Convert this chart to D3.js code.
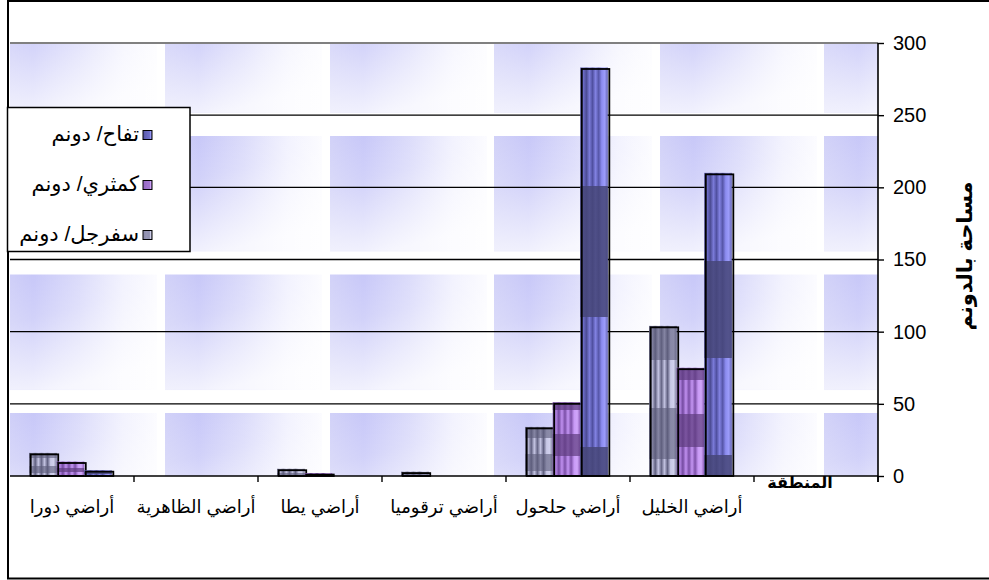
<!DOCTYPE html>
<html>
<head>
<meta charset="utf-8">
<script src="https://cdn.jsdelivr.net/npm/d3@7"></script>
<style>
  body { margin: 0; background: #fff; }
  svg { display: block; }
</style>
</head>
<body>
<svg id="chart" width="989" height="580"></svg>
<script>
// Orchard area per region (dunums); first slot of the axis is left empty
const categories = ["", "أراضي الخليل", "أراضي حلحول", "أراضي ترقوميا", "أراضي يطا", "أراضي الظاهرية", "أراضي دورا"];
const seriesKeys = ["quince", "pear", "apple"];
const seriesNames = { quince: "سفرجل/ دونم", pear: "كمثري/ دونم", apple: "تفاح/ دونم" };
const quince = [0, 103, 33, 2, 4, 0, 15];
const pear   = [0, 74, 50, 0, 1, 0, 9];
const apple  = [0, 209, 282, 0, 0, 0, 3];
const yTicks = [0, 50, 100, 150, 200, 250, 300];
const legendOrder = ["apple", "pear", "quince"];
const xTitle = "المنطقة";
const yTitle = "مساحة بالدونم";

const values = { quince, pear, apple };
const fontLatin = "'Liberation Sans', Arial, 'DejaVu Sans', sans-serif";

const svg = d3.select("#chart");
const defs = svg.append("defs");

// plot frame
const plot = { left: 10, right: 878, top: 43, bottom: 476 };

// outer chart border
svg.append("rect")
  .attr("x", 8).attr("y", 1).attr("width", 990).attr("height", 577.5)
  .attr("fill", "#fff").attr("stroke", "#000").attr("stroke-width", 2);

// background texture: soft blue tiles, strongest near the upper left
const bgH = defs.append("linearGradient").attr("id", "bgH")
  .attr("x1", 0).attr("y1", 0).attr("x2", 1).attr("y2", 0);
[[0, "#d2d2f8"], [0.22, "#c6c6f8"], [0.5, "#d8d8fa"], [0.78, "#f0f0fe"], [1, "#fbfbff"]]
  .forEach(([o, c]) => bgH.append("stop").attr("offset", o).attr("stop-color", c));
const bgV = defs.append("linearGradient").attr("id", "bgV")
  .attr("x1", 0).attr("y1", 0).attr("x2", 0.35).attr("y2", 1);
[[0, 0], [0.4, 0.2], [1, 0.8]]
  .forEach(([o, a]) => bgV.append("stop").attr("offset", o).attr("stop-color", "#fff").attr("stop-opacity", a));

const tileW = 165, tileH = 138.5;
const tile = defs.append("pattern").attr("id", "bgTile")
  .attr("patternUnits", "userSpaceOnUse")
  .attr("x", -1).attr("y", -2.5).attr("width", tileW).attr("height", tileH);
tile.append("rect").attr("width", tileW).attr("height", tileH).attr("fill", "#fff");
tile.append("rect").attr("width", 158).attr("height", 115.5).attr("fill", "url(#bgH)");
tile.append("rect").attr("width", 158).attr("height", 115.5).attr("fill", "url(#bgV)");

svg.append("rect")
  .attr("x", plot.left).attr("y", plot.top)
  .attr("width", plot.right - plot.left).attr("height", plot.bottom - plot.top)
  .attr("fill", "url(#bgTile)");

// scales
const x = d3.scaleBand().domain(categories).range([plot.right, plot.left]).paddingInner(0).paddingOuter(0);
const xs = d3.scaleBand().domain(seriesKeys).range([0, x.bandwidth()]).paddingInner(0).paddingOuter(0.75);
const y = d3.scaleLinear().domain([0, 300]).range([plot.bottom, plot.top]);

// gridlines
svg.append("g").selectAll("line")
  .data(yTicks.filter(t => t > 0))
  .join("line")
  .attr("x1", plot.left).attr("x2", plot.right)
  .attr("y1", d => y(d)).attr("y2", d => y(d))
  .attr("stroke", d => d === 300 ? "#808080" : "#000")
  .attr("stroke-width", d => d === 300 ? 2 : 1.4);

// bar textures: vertical stripes + stretched dark bands
const stripeStops = {
  apple:  ["#4e4e98", "#6c6cc8", "#4c4c94", "#7a7ad8", "#5050a0", "#8282e2", "#5656a8", "#8c8cf0", "#9c9cfa", "#6262b2"],
  pear:   ["#74489e", "#b888ea", "#744aa0", "#c090f0", "#7a4ea6", "#c496f4", "#7c50a8", "#c89af6", "#d0a6fa", "#8a5cb6"],
  quince: ["#6a6a8a", "#babad8", "#606080", "#c4c4e2", "#666686", "#c0c0de", "#626282", "#c8c8e6", "#d0d0ec", "#7c7c9c"]
};
const bandColor = { apple: "#464678", pear: "#5e3c7e", quince: "#5c5c7a" };
const bandOpacity = { apple: 0.85, pear: 0.7, quince: 0.6 };
const darkBands = {
  quince: [[0, 0.23], [0.55, 0.89]],
  pear:   [[0, 0.11], [0.43, 0.73]],
  apple:  [[0.29, 0.61], [0.93, 1.0]]
};
seriesKeys.forEach(k => {
  const g = defs.append("linearGradient").attr("id", "stripe-" + k)
    .attr("x1", 0).attr("y1", 0).attr("x2", 1).attr("y2", 0);
  const n = stripeStops[k].length;
  stripeStops[k].forEach((c, i) => g.append("stop").attr("offset", i / (n - 1)).attr("stop-color", c));

  const b = defs.append("linearGradient").attr("id", "band-" + k)
    .attr("x1", 0).attr("y1", 0).attr("x2", 0).attr("y2", 1);
  darkBands[k].forEach(([a, z]) => {
    b.append("stop").attr("offset", a).attr("stop-color", bandColor[k]).attr("stop-opacity", 0);
    b.append("stop").attr("offset", a).attr("stop-color", bandColor[k]).attr("stop-opacity", bandOpacity[k]);
    b.append("stop").attr("offset", z).attr("stop-color", bandColor[k]).attr("stop-opacity", bandOpacity[k]);
    b.append("stop").attr("offset", z).attr("stop-color", bandColor[k]).attr("stop-opacity", 0);
  });
});

// bars
const barData = [];
categories.forEach((c, i) => {
  seriesKeys.forEach(k => {
    const v = values[k][i];
    if (v > 0) barData.push({ cat: c, key: k, value: v });
  });
});

const bars = svg.append("g").selectAll("g").data(barData).join("g");
const bw = xs.bandwidth();
bars.append("rect")
  .attr("x", d => x(d.cat) + xs(d.key) - 1.5)
  .attr("y", d => y(d.value) - 1.5)
  .attr("width", bw)
  .attr("height", d => y(0) - y(d.value) + 1.5)
  .attr("fill", d => "url(#stripe-" + d.key + ")");
bars.append("rect")
  .attr("x", d => x(d.cat) + xs(d.key) - 1.5)
  .attr("y", d => y(d.value) - 1.5)
  .attr("width", bw)
  .attr("height", d => y(0) - y(d.value) + 1.5)
  .attr("fill", d => "url(#band-" + d.key + ")");
bars.append("rect")
  .attr("x", d => x(d.cat) + xs(d.key))
  .attr("y", d => y(d.value))
  .attr("width", bw)
  .attr("height", d => y(0) - y(d.value))
  .attr("fill", "none")
  .attr("stroke", "#000").attr("stroke-width", 1.8);

// category axis
svg.append("line")
  .attr("x1", plot.left).attr("x2", plot.right)
  .attr("y1", plot.bottom).attr("y2", plot.bottom)
  .attr("stroke", "#000").attr("stroke-width", 1.6);

const boundaries = categories.map(c => x(c)).concat([plot.right]);
svg.append("g").selectAll("line")
  .data(boundaries.filter(b => b > plot.left + 1))
  .join("line")
  .attr("x1", d => d).attr("x2", d => d)
  .attr("y1", plot.bottom).attr("y2", plot.bottom + 6)
  .attr("stroke", "#000").attr("stroke-width", 1.4);

svg.append("g").selectAll("text")
  .data(categories.filter(c => c !== ""))
  .join("text")
  .attr("x", d => x(d) + x.bandwidth() / 2)
  .attr("y", 513)
  .attr("text-anchor", "middle")
  .attr("direction", "rtl")
  .attr("font-family", fontLatin)
  .attr("font-size", 18)
  .attr("fill", "#000")
  .text(d => d);

svg.append("text")
  .attr("x", 800).attr("y", 488)
  .attr("text-anchor", "middle")
  .attr("direction", "rtl")
  .attr("font-family", fontLatin)
  .attr("font-size", 16)
  .attr("font-weight", "bold")
  .text(xTitle);

// value axis on the right
const yAxis = d3.axisRight(y).tickValues(yTicks).tickSize(6).tickPadding(9);
const yG = svg.append("g").attr("transform", `translate(${plot.right},0)`).call(yAxis);
yG.select(".domain").attr("stroke", "#000").attr("stroke-width", 1.6)
  .attr("d", `M0,${plot.top}V${plot.bottom + 6}`);
yG.selectAll(".tick line").attr("stroke", "#000").attr("stroke-width", 1.4);
yG.selectAll(".tick text")
  .attr("font-family", fontLatin).attr("font-size", 20).attr("fill", "#000");

svg.append("text")
  .attr("transform", "translate(966,256) rotate(-90)")
  .attr("text-anchor", "middle")
  .attr("dominant-baseline", "middle")
  .attr("direction", "rtl")
  .attr("font-family", fontLatin)
  .attr("font-size", 21)
  .attr("font-weight", "bold")
  .text(yTitle);

// legend
const lg = svg.append("g");
lg.append("rect")
  .attr("x", 7.5).attr("y", 107.5).attr("width", 182.5).attr("height", 144)
  .attr("fill", "#fff").attr("stroke", "#000").attr("stroke-width", 1.5);
const rows = lg.selectAll("g.row").data(legendOrder).join("g")
  .attr("class", "row")
  .attr("transform", (d, i) => `translate(0,${135 + i * 50})`);
rows.append("rect")
  .attr("x", 143).attr("y", -4.5).attr("width", 9).attr("height", 9)
  .attr("fill", d => "url(#stripe-" + d + ")")
  .attr("stroke", "#000").attr("stroke-width", 1);
rows.append("text")
  .attr("x", 139).attr("y", 0)
  .attr("dominant-baseline", "middle")
  .attr("text-anchor", "start")
  .attr("direction", "rtl")
  .attr("font-family", fontLatin)
  .attr("font-size", 21)
  .text(d => seriesNames[d]);
</script>
</body>
</html>
